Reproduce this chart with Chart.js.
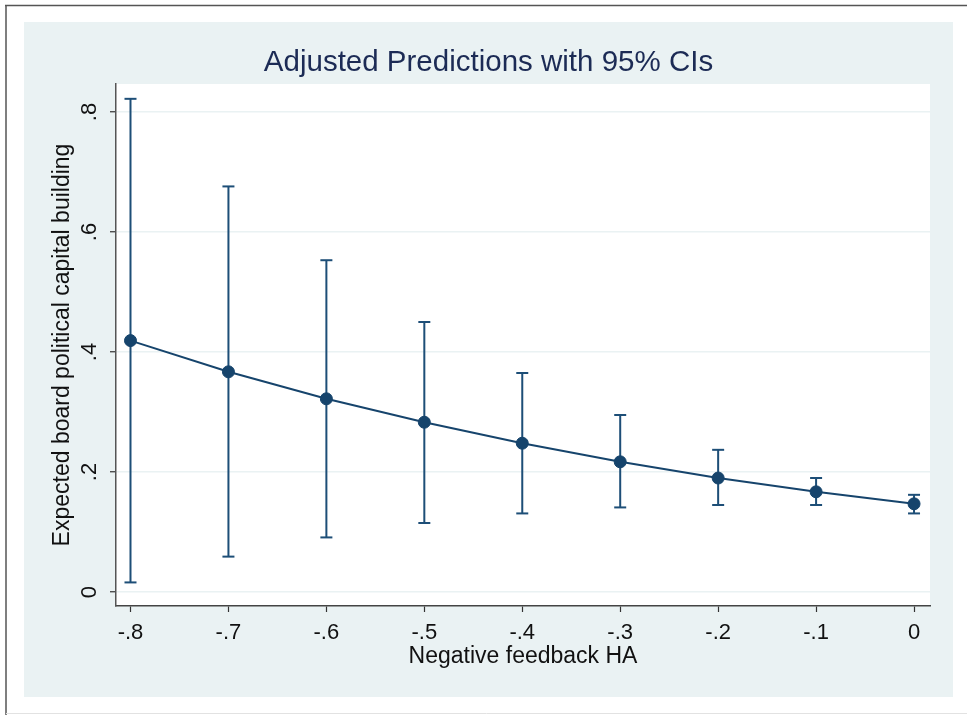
<!DOCTYPE html>
<html>
<head>
<meta charset="utf-8">
<title>Adjusted Predictions with 95% CIs</title>
<script src="https://cdn.jsdelivr.net/npm/chart.js@4.4.1/dist/chart.umd.min.js"></script>
<style>
	body { margin: 0; background: #fff; }
	#wrap { width: 967px; height: 715px; }
</style>
</head>
<body>
<div id="wrap"><canvas id="mycanvas" width="967" height="715"></canvas></div>
<script>
// values
var feedback = [-0.8, -0.7, -0.6, -0.5, -0.4, -0.3, -0.2, -0.1, 0];
var margin   = [0.419, 0.367, 0.322, 0.283, 0.248, 0.217, 0.190, 0.167, 0.147];
var ciLow    = [0.016, 0.059, 0.091, 0.115, 0.131, 0.141, 0.145, 0.145, 0.131];
var ciHigh   = [0.822, 0.676, 0.553, 0.450, 0.365, 0.295, 0.237, 0.190, 0.162];
var xTicks = [-0.8, -0.7, -0.6, -0.5, -0.4, -0.3, -0.2, -0.1, 0];
var yTicks = [0, 0.2, 0.4, 0.6, 0.8];

function stataLabel(v) {
	if (Math.abs(v) < 1e-9) return '0';
	return v.toFixed(1).replace('0.', '.');
}

var points = [];
var bars = [];
for (var i in feedback) {
	points.push({x: feedback[i], y: margin[i]});
	// low, high, then a gap so each interval is its own segment
	bars.push({x: feedback[i], y: ciLow[i]});
	bars.push({x: feedback[i], y: ciHigh[i]});
	bars.push({x: feedback[i], y: null});
}

var navy = '#16446c';
var font = '"Liberation Sans", Arial, sans-serif';

var backdrop = {
	id: 'backdrop',
	beforeDraw: function(chart) {
		var c = chart.ctx, a = chart.chartArea;
		c.save();
		c.fillStyle = '#fff';
		c.fillRect(0, 0, chart.width, chart.height);
		c.strokeStyle = '#555';
		c.lineWidth = 1.5;
		c.beginPath();
		c.moveTo(5, 5.5); c.lineTo(chart.width, 5.5);
		c.moveTo(6, 5); c.lineTo(6, chart.height);
		c.stroke();
		c.strokeStyle = '#e2e2e2';
		c.lineWidth = 1;
		c.beginPath();
		c.moveTo(6, 713.5); c.lineTo(chart.width, 713.5);
		c.stroke();
		c.fillStyle = '#eaf2f3';
		c.fillRect(24, 22, 929, 675);
		c.fillStyle = '#fff';
		c.fillRect(a.left, a.top, a.right - a.left, a.bottom - a.top);
		c.restore();
	}
};

var ctx = document.getElementById('mycanvas');

var chart = new Chart(ctx, {
	type: 'scatter',
	data: {
		datasets: [
			{
				label: 'Adjusted prediction',
				data: points,
				showLine: true,
				borderColor: navy,
				borderWidth: 2,
				pointRadius: 6,
				pointBackgroundColor: navy,
				pointBorderColor: navy,
				pointBorderWidth: 1,
				order: 0,
				clip: false
			},
			{
				label: '95% CI',
				data: bars,
				showLine: true,
				spanGaps: false,
				borderColor: '#1d4e77',
				borderWidth: 2,
				pointStyle: 'line',
				pointRadius: 6,
				pointBorderColor: '#1d4e77',
				pointBorderWidth: 2,
				order: 1,
				clip: false
			}
		]
	},
	options: {
		responsive: false,
		animation: false,
		events: [],
		layout: { padding: { left: 24, top: 22, right: 14, bottom: 18 } },
		plugins: {
			legend: { display: false },
			tooltip: { enabled: false },
			title: {
				display: true,
				text: 'Adjusted Predictions with 95% CIs',
				color: '#1c2b55',
				font: { family: font, size: 29.5, weight: 'normal' },
				padding: { top: 23.3, bottom: 3.3 }
			}
		},
		scales: {
			x: {
				type: 'linear',
				min: -0.8148,
				max: 0.0163,
				afterBuildTicks: function(scale) {
					scale.ticks = xTicks.map(function(v) { return {value: v}; });
				},
				afterFit: function(scale) { scale.height = 91; },
				grid: { display: true, drawOnChartArea: false, drawTicks: true, tickLength: 6, tickColor: '#333', tickWidth: 1.2 },
				border: { display: true, color: '#444', width: 1.5 },
				ticks: {
					autoSkip: false,
					maxRotation: 0,
					padding: 8,
					color: '#111',
					font: { family: font, size: 22 },
					callback: function(v) { return stataLabel(v); }
				},
				title: {
					display: true,
					text: 'Negative feedback HA',
					color: '#111',
					font: { family: font, size: 23 },
					padding: { top: 26.2, bottom: 26.2 }
				}
			},
			y: {
				type: 'linear',
				min: -0.0233,
				max: 0.8467,
				afterBuildTicks: function(scale) {
					scale.ticks = yTicks.map(function(v) { return {value: v}; });
				},
				afterFit: function(scale) { scale.width = 92; },
				grid: { display: true, color: '#eaf2f3', lineWidth: 1.5, drawTicks: true, tickLength: 6, tickColor: '#333', tickWidth: 1.2 },
				border: { display: true, color: '#555', width: 1.5 },
				ticks: {
					autoSkip: false,
					minRotation: 90,
					maxRotation: 90,
					crossAlign: 'center',
					padding: 10.8,
					color: '#111',
					font: { family: font, size: 22 },
					callback: function(v) { return stataLabel(v); }
				},
				title: {
					display: true,
					text: 'Expected board political capital building',
					color: '#111',
					font: { family: font, size: 23 },
					padding: { top: 25.2, bottom: 25.2 }
				}
			},
			// empty right-hand strip so the title centres on the whole panel
			gap: {
				type: 'linear',
				position: 'right',
				display: true,
				afterFit: function(scale) { scale.width = 23; },
				grid: { display: false },
				border: { display: false },
				ticks: { display: false }
			}
		}
	},
	plugins: [backdrop]
});
</script>
</body>
</html>
